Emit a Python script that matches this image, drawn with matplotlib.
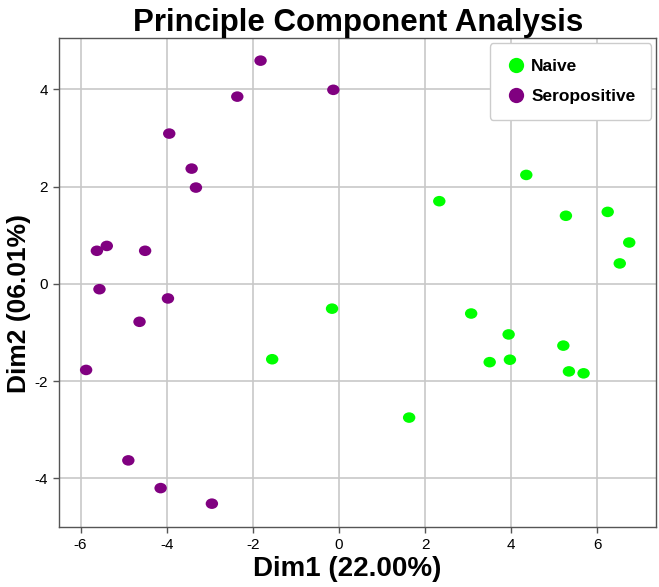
import numpy as np
import matplotlib
matplotlib.use('Agg')
import matplotlib.pyplot as plt
from matplotlib.path import Path
from matplotlib.transforms import Affine2D
from matplotlib.lines import Line2D

plt.rcParams['font.family'] = ['Liberation Sans', 'DejaVu Sans']
plt.rcParams['axes.unicode_minus'] = False

# PCA scores
naive_x = [4.35, 2.33, 5.27, 6.24, 6.74, 6.52, -0.16, 3.07, 3.94, 5.21, 3.50, 3.97, 5.34, 5.68, 1.63, -1.55]
naive_y = [2.24, 1.70, 1.40, 1.48, 0.85, 0.42, -0.51, -0.61, -1.04, -1.27, -1.61, -1.56, -1.80, -1.84, -2.75, -1.55]

sero_x = [-1.82, -2.36, -0.13, -3.94, -3.42, -3.32, -5.62, -5.39, -4.50, -5.56, -3.97, -4.63, -5.87, -4.89, -4.14, -2.95]
sero_y = [4.59, 3.85, 3.99, 3.09, 2.37, 1.98, 0.68, 0.78, 0.68, -0.11, -0.30, -0.78, -1.77, -3.63, -4.20, -4.52]

groups = ['Naive', 'Seropositive']
colors = ['#00ff00', '#800080']

# points are slightly wider than tall in the reference
ellipse = Path.unit_circle().transformed(Affine2D().scale(1.0, 0.85))

fig = plt.figure(figsize=(6.59, 5.87), dpi=100)
ax = fig.add_axes([0.0895, 0.1022, 0.9065, 0.8326])

ax.scatter(naive_x, naive_y, s=80, marker=ellipse, color=colors[0], edgecolors='none', zorder=3)
ax.scatter(sero_x, sero_y, s=80, marker=ellipse, color=colors[1], edgecolors='none', zorder=3)

ax.set_xlim(-6.5, 7.37)
ax.set_ylim(-5.0, 5.05)
ax.set_xticks([-6, -4, -2, 0, 2, 4, 6])
ax.set_yticks([-4, -2, 0, 2, 4])
ax.grid(True, color='#c8c8c8', linewidth=1.2, zorder=0)
ax.set_axisbelow(True)
for sp in ax.spines.values():
    sp.set_color('#555555')
    sp.set_linewidth(1.0)
ax.tick_params(axis='both', labelsize=11, length=4, width=1, color='#555555', pad=4)

ax.set_title('Principle Component Analysis', fontsize=22.5, fontweight='bold', pad=4)
ax.set_xlabel('Dim1 (22.00%)', fontsize=20, fontweight='bold')
ax.xaxis.set_label_coords(0.483, -0.060)
ax.set_ylabel('Dim2 (06.01%)', fontsize=19, fontweight='bold')
ax.yaxis.set_label_coords(-0.047, 0.458)

handles = [Line2D([0], [0], marker='o', ls='none', markersize=11, color=c, markeredgewidth=0) for c in colors]
leg = ax.legend(handles, groups, loc='upper right', prop={'weight': 'bold', 'size': 12.5},
                frameon=True, fancybox=True, edgecolor='#cccccc', framealpha=1,
                borderpad=0.9, labelspacing=0.85, handletextpad=0.3, handlelength=1.2,
                borderaxespad=0.3)

fig.savefig('out.png', dpi=100)
